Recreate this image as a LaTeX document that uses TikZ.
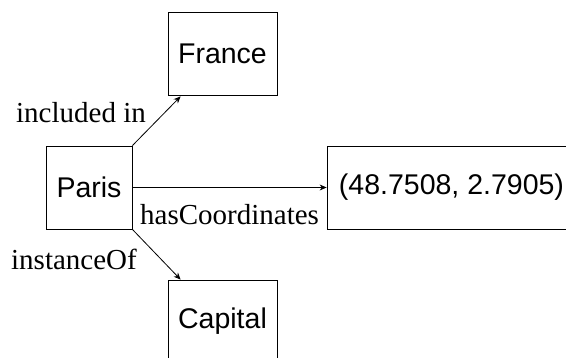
\documentclass[tikz,border=0pt]{standalone}
\usepackage{fontspec}
\setmainfont{Liberation Serif}
\newfontfamily\boxfont{Liberation Sans}
\usetikzlibrary{arrows.meta}
\begin{document}
\begin{tikzpicture}[x=1pt,y=1pt,
  entity/.style={draw, line width=0.8pt, minimum height=83pt, inner sep=0pt,
    font=\boxfont\fontsize{28.5}{34}\selectfont},
  rel/.style={line width=0.8pt, -{Stealth[length=7pt,width=6pt]}},
  lbl/.style={inner sep=0pt, font=\fontsize{29}{34}\selectfont}]
\useasboundingbox (0,0) rectangle (566,358);
\clip (0,0) rectangle (566,358);
\node[entity, minimum width=109pt] (france) at (222.5,304.5) {France};
\node[entity, minimum width=86pt] (paris) at (89,170.5) {Paris};
\node[entity, minimum width=249pt] (coords) at (451.5,170.5) {(48.7508, 2.7905)};
\node[entity, minimum width=109pt] (capital) at (222.5,36.5) {Capital};
\draw[rel] (paris.north east) -- ([xshift=13pt,yshift=-1pt]france.south west);
\draw[rel] (paris.east) -- (coords.west);
\draw[rel] (paris.south east) -- ([xshift=13pt]capital.north west);
\node[lbl, anchor=base east] (l1) at (146,235) {included in};
\node[lbl, anchor=base west] (l2) at (140,133) {hasCoordinates};
\node[lbl, anchor=base east] (l3) at (137,88) {instanceOf};
\end{tikzpicture}
\end{document}
